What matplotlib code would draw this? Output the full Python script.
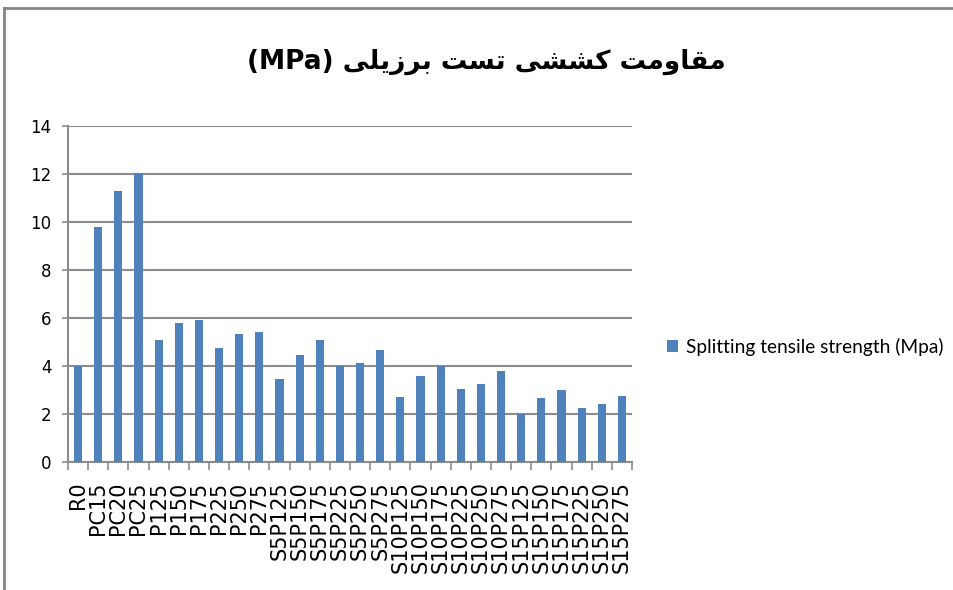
import matplotlib
matplotlib.use("Agg")
import matplotlib.pyplot as plt
from matplotlib.lines import Line2D
import numpy as np

# datos del grafico
categorias = ["R0", "PC15", "PC20", "PC25", "P125", "P150", "P175", "P225",
              "P250", "P275", "S5P125", "S5P150", "S5P175", "S5P225",
              "S5P250", "S5P275", "S10P125", "S10P150", "S10P175",
              "S10P225", "S10P250", "S10P275", "S15P125", "S15P150",
              "S15P175", "S15P225", "S15P250", "S15P275"]
valores = [4.0, 9.78, 11.3, 12.06, 5.07, 5.78, 5.92, 4.74, 5.35, 5.41,
           3.45, 4.45, 5.07, 4.0, 4.13, 4.67, 2.70, 3.60, 4.0, 3.04,
           3.27, 3.80, 2.02, 2.66, 3.0, 2.27, 2.41, 2.74]
ticks_y = [0, 2, 4, 6, 8, 10, 12, 14]
serie = "Splitting tensile strength (Mpa)"

# formas de presentacion para el titulo persa (iso, fin, ini, med)
FORMAS = {
    "م": ("\uFEE1", "\uFEE2", "\uFEE3", "\uFEE4"),
    "ق": ("\uFED5", "\uFED6", "\uFED7", "\uFED8"),
    "ا": ("\uFE8D", "\uFE8E", None, None),
    "و": ("\uFEED", "\uFEEE", None, None),
    "ت": ("\uFE95", "\uFE96", "\uFE97", "\uFE98"),
    "ک": ("\uFB8E", "\uFB8F", "\uFB90", "\uFB91"),
    "ش": ("\uFEB5", "\uFEB6", "\uFEB7", "\uFEB8"),
    "ی": ("\uFBFC", "\uFBFD", "\uFBFE", "\uFBFF"),
    "س": ("\uFEB1", "\uFEB2", "\uFEB3", "\uFEB4"),
    "ب": ("\uFE8F", "\uFE90", "\uFE91", "\uFE92"),
    "ر": ("\uFEAD", "\uFEAE", None, None),
    "ز": ("\uFEAF", "\uFEB0", None, None),
    "ل": ("\uFEDD", "\uFEDE", "\uFEDF", "\uFEE0"),
}


def une_izq(c):
    return c in FORMAS and FORMAS[c][2] is not None


def formar_palabra(palabra):
    salida = []
    for i, c in enumerate(palabra):
        if c not in FORMAS:
            salida.append(c)
            continue
        prev = i > 0 and une_izq(palabra[i - 1])
        sig = i < len(palabra) - 1 and une_izq(c) and palabra[i + 1] in FORMAS
        if prev and sig:
            f = FORMAS[c][3]
        elif prev:
            f = FORMAS[c][1]
        elif sig:
            f = FORMAS[c][2]
        else:
            f = FORMAS[c][0]
        salida.append(f)
    return "".join(reversed(salida))


palabras = ["مقاومت", "کششی", "تست", "برزیلی"]
titulo = "(MPa) " + " ".join(formar_palabra(p) for p in reversed(palabras))

azul = "#4F81BD"
gris = "#8C8C8C"

fig = plt.figure(figsize=(9.54, 5.9), dpi=100)
ax = fig.add_axes([68 / 954, 1 - 462 / 590, 564 / 954, 336 / 590])

x = np.arange(len(categorias))
ax.bar(x, valores, width=0.4, color=azul, zorder=3, label=serie)

ax.set_xlim(-0.5, len(categorias) - 0.5)
ax.set_ylim(0, 14)
ax.set_yticks(ticks_y)
ax.yaxis.grid(True, color=gris, linewidth=1.5, zorder=0)
ax.set_axisbelow(True)

ax.set_xticks(x)
ax.set_xticklabels(categorias, rotation=90, fontsize=15, family="DejaVu Sans")
ax.set_xticks(np.arange(-0.5, len(categorias)), minor=True)
ax.tick_params(axis="x", which="major", length=0, pad=14)
ax.tick_params(axis="x", which="minor", length=6, color=gris, width=1.2)
ax.tick_params(axis="y", length=4, color=gris, width=1.2, labelsize=12, pad=8)

for lado in ["top", "right"]:
    ax.spines[lado].set_visible(False)
for lado in ["left", "bottom"]:
    ax.spines[lado].set_color(gris)
    ax.spines[lado].set_linewidth(1.5)

ax.legend(loc="center left", bbox_to_anchor=(650 / 954, 1 - 347 / 590),
          bbox_transform=fig.transFigure, frameon=False,
          prop={"family": "Lato", "size": 13.8},
          handlelength=0.55, handleheight=0.55, handletextpad=0.45)

fig.text(486 / 954, 1 - 62 / 590, titulo, ha="center", va="center",
         fontsize=19, fontweight="bold", family=["DejaVu Sans"])

# marco del grafico
fig.add_artist(Line2D([4 / 954, 4 / 954], [0, 1 - 8 / 590], color="#868686", lw=2))
fig.add_artist(Line2D([4 / 954, 1], [1 - 8 / 590, 1 - 8 / 590], color="#868686", lw=2))

fig.savefig("out.png", dpi=100, facecolor="white")
plt.close(fig)
